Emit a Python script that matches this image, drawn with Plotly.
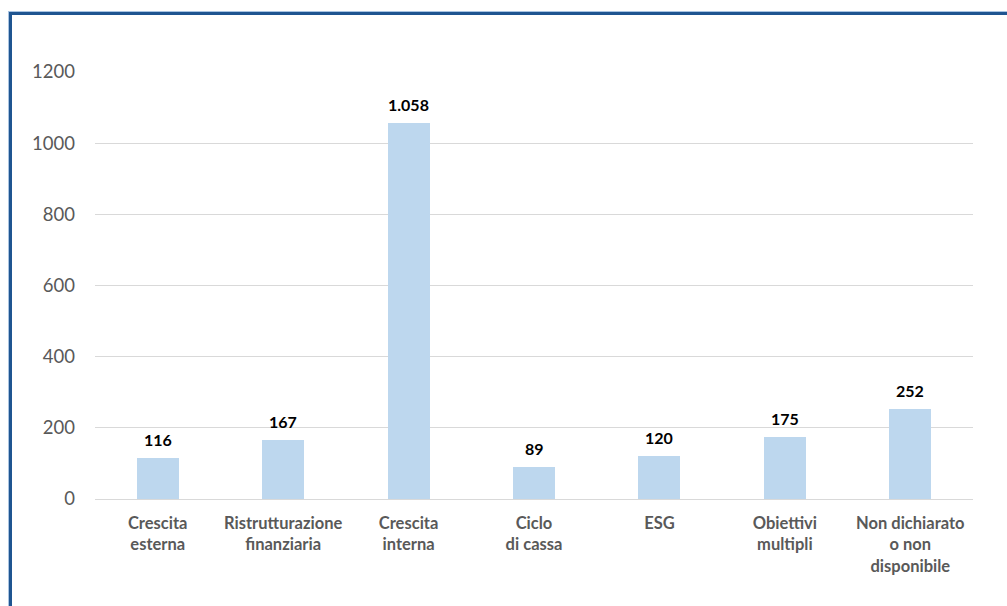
import plotly.graph_objects as go

# Obiettivi dichiarati dalle operazioni
categorie = [
    "Crescita<br>esterna",
    "Ristrutturazione<br>finanziaria",
    "Crescita<br>interna",
    "Ciclo<br>di cassa",
    "ESG",
    "Obiettivi<br>multipli",
    "Non dichiarato<br>o non<br>disponibile",
]
valori = [116, 167, 1058, 89, 120, 175, 252]
etichette = ["116", "167", "1.058", "89", "120", "175", "252"]
y_ticks = [0, 200, 400, 600, 800, 1000, 1200]

W, H = 1007, 606
L, R, T, B = 95, 34, 72, 107
FONT = "Lato"

fig = go.Figure(
    go.Bar(
        x=list(range(len(categorie))),
        y=valori,
        marker=dict(color="#BDD7EE", line=dict(width=0)),
        width=0.335,
        hoverinfo="x+y",
    )
)

# Etichette dei valori sopra le barre
for i, (v, t) in enumerate(zip(valori, etichette)):
    fig.add_annotation(
        x=i, y=v, text=f"<b>{t}</b>", showarrow=False,
        xanchor="center", yanchor="bottom", yshift=7,
        font=dict(family=FONT, size=16, color="#000000"),
    )

fig.update_layout(
    width=W,
    height=H,
    margin=dict(l=L, r=R, t=T, b=B),
    paper_bgcolor="white",
    plot_bgcolor="white",
    showlegend=False,
    bargap=0,
    xaxis=dict(
        tickmode="array",
        tickvals=list(range(len(categorie))),
        ticktext=[f"<b>{c}</b>" for c in categorie],
        range=[-0.5, len(categorie) - 0.5],
        showgrid=False,
        showline=True,
        linecolor="#D9D9D9",
        linewidth=1,
        ticks="",
        ticklabelstandoff=9,
        tickfont=dict(family=FONT, size=16.5, color="#595959"),
        zeroline=False,
    ),
    yaxis=dict(
        range=[0, 1200],
        tickmode="array",
        tickvals=y_ticks,
        ticktext=[str(v) for v in y_ticks],
        showgrid=True,
        gridcolor="#D9D9D9",
        gridwidth=1,
        zeroline=False,
        showline=False,
        ticks="",
        ticklabelstandoff=19,
        tickfont=dict(family=FONT, size=18.5, color="#595959"),
    ),
)

# Cornice blu (lati sinistro e superiore)
pw, ph = W - L - R, H - T - B
def px(xp):
    return (xp - L) / pw
def py(yp):
    return (H - B - yp) / ph

frame_dark = "#1F5591"
frame_light = "#A9C4E2"
shapes = [
    dict(type="line", xref="paper", yref="paper", x0=px(8.5), x1=px(8.5), y0=py(11), y1=py(H + 5),
         line=dict(color=frame_light, width=1)),
    dict(type="line", xref="paper", yref="paper", x0=px(8), x1=px(W + 5), y0=py(11.5), y1=py(11.5),
         line=dict(color=frame_light, width=1)),
    dict(type="line", xref="paper", yref="paper", x0=px(10.5), x1=px(10.5), y0=py(12), y1=py(H + 5),
         line=dict(color=frame_dark, width=3)),
    dict(type="line", xref="paper", yref="paper", x0=px(9), x1=px(W + 5), y0=py(13.5), y1=py(13.5),
         line=dict(color=frame_dark, width=3)),
]
fig.update_layout(shapes=shapes)

fig.write_html("out.html")
